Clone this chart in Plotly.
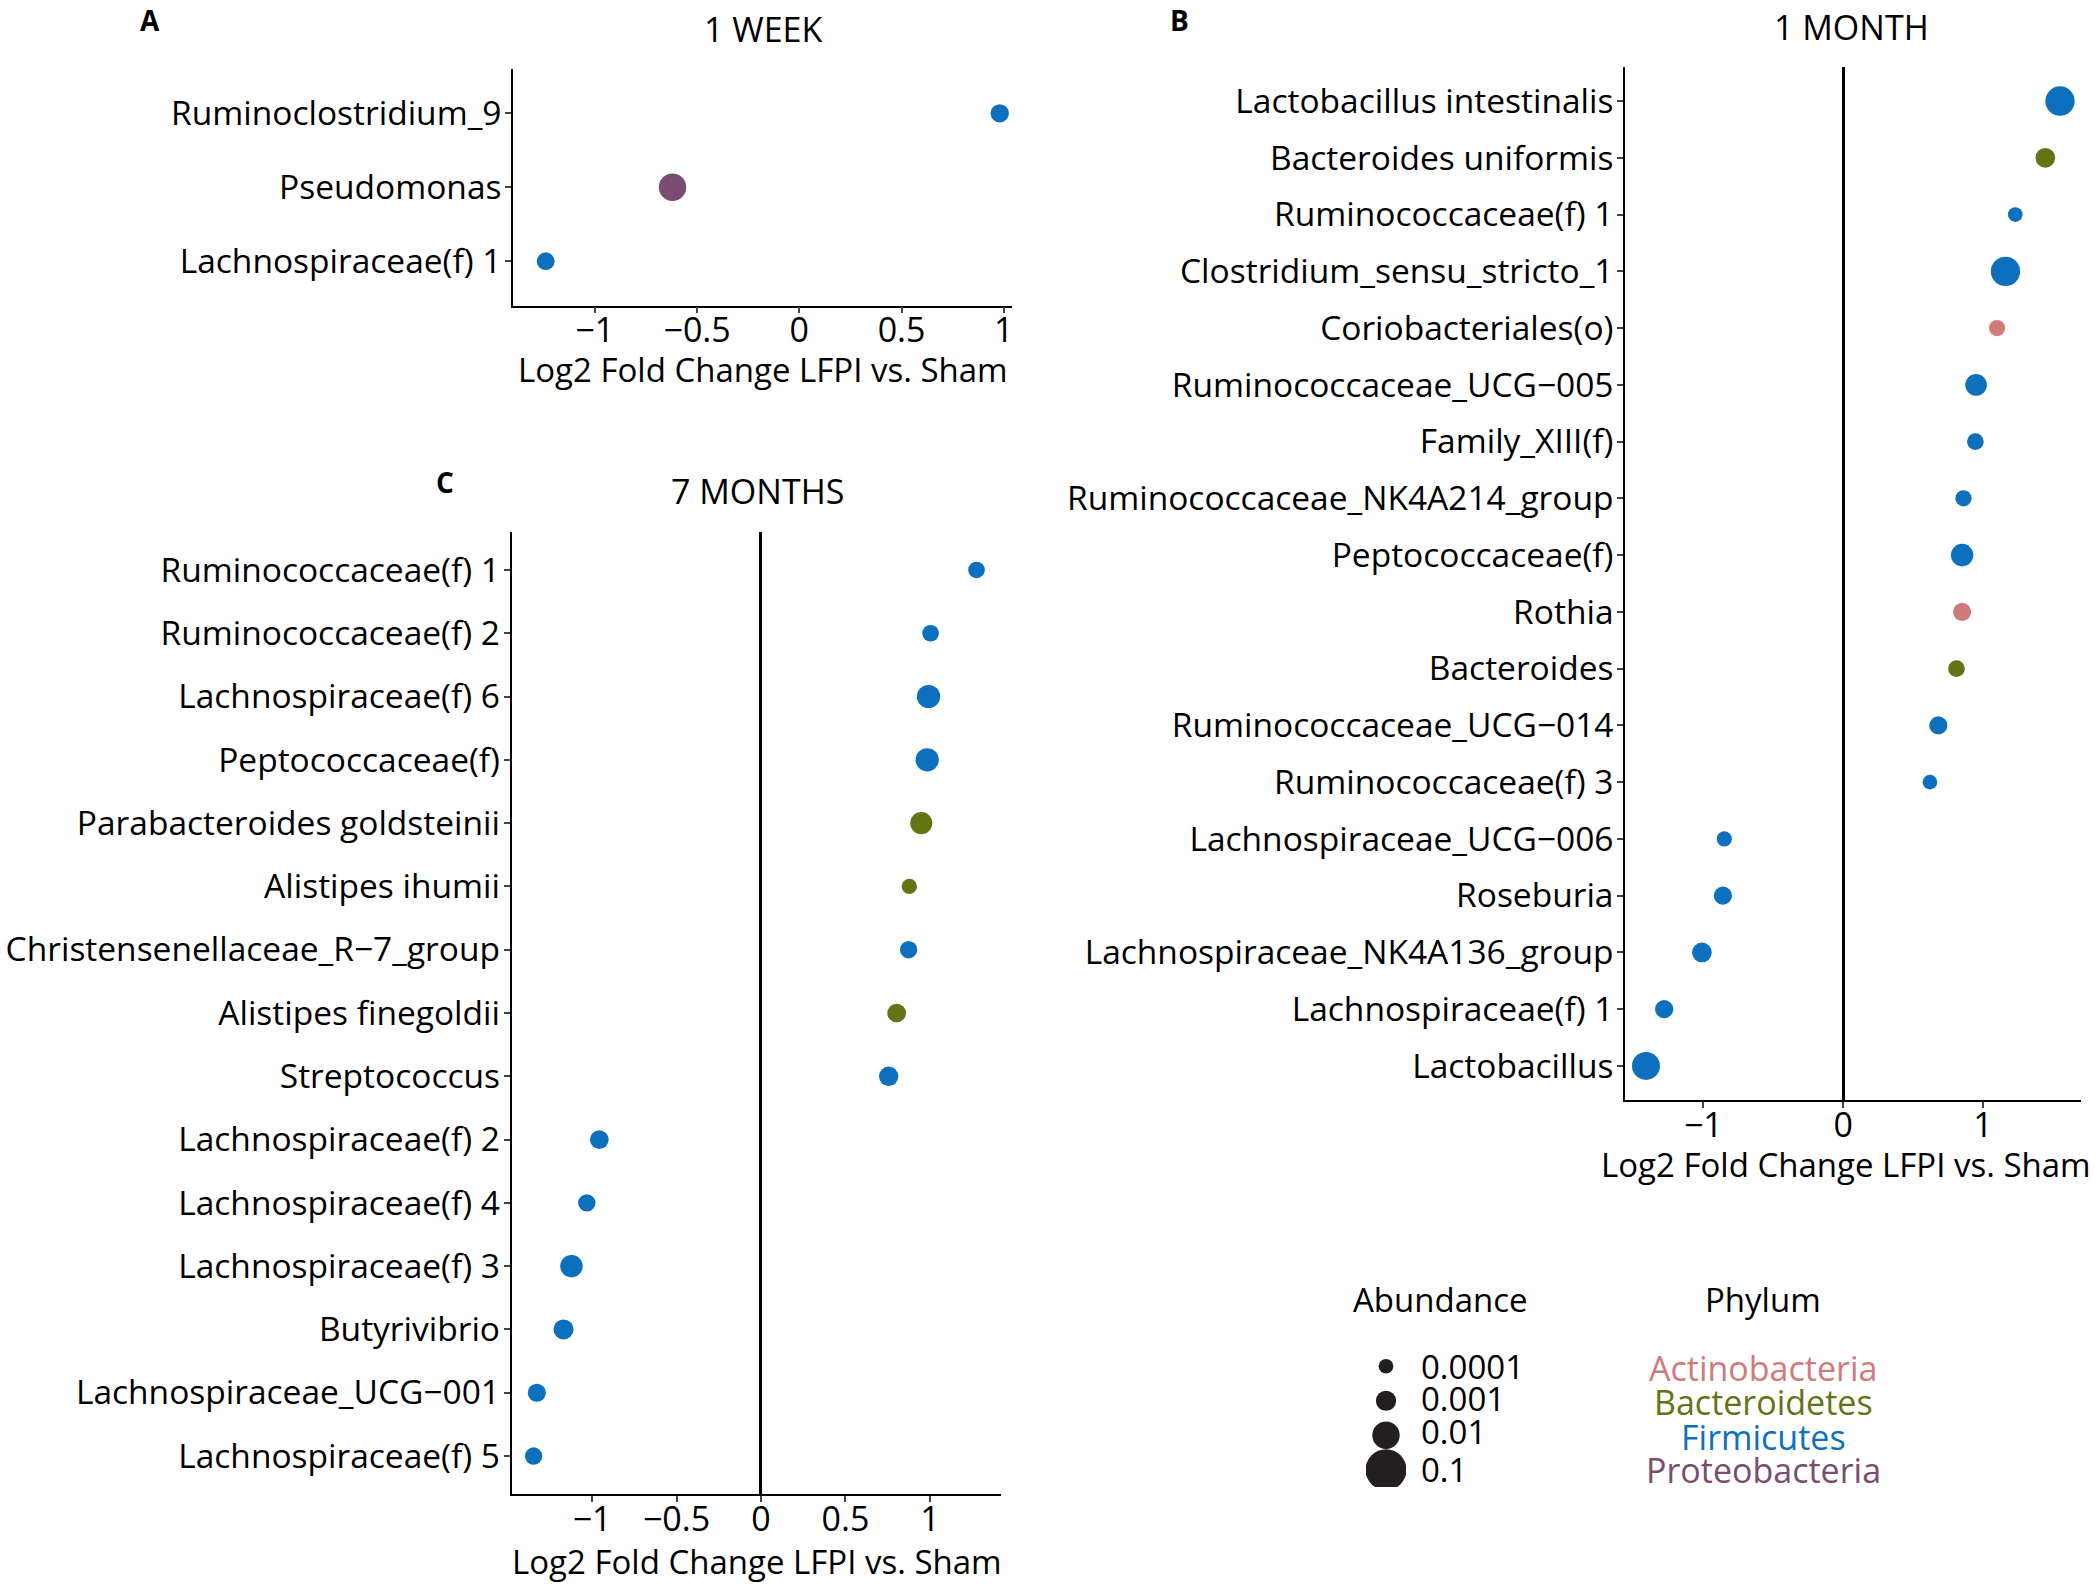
import numpy as np
import plotly.graph_objects as go

W, H = 2095, 1584
FONT = "Open Sans"

# ---------------- data ----------------
phyla = ["Actinobacteria", "Bacteroidetes", "Firmicutes", "Proteobacteria"]
phylum_colors = ["#D17A7C", "#627414", "#0C70BF", "#7A4C6F"]

abundance_breaks = [0.0001, 0.001, 0.01, 0.1]
abundance_break_labels = ["0.0001", "0.001", "0.01", "0.1"]

# 1 WEEK
taxa_1w = ["Ruminoclostridium_9", "Pseudomonas", "Lachnospiraceae(f) 1"]
lfc_1w = [0.98, -0.62, -1.24]
abund_1w = [0.00045, 0.01, 0.00035]
phylum_1w = ["Firmicutes", "Proteobacteria", "Firmicutes"]

# 1 MONTH
taxa_1m = ["Lactobacillus intestinalis", "Bacteroides uniformis", "Ruminococcaceae(f) 1",
           "Clostridium_sensu_stricto_1", "Coriobacteriales(o)", "Ruminococcaceae_UCG\u2212005",
           "Family_XIII(f)", "Ruminococcaceae_NK4A214_group", "Peptococcaceae(f)", "Rothia",
           "Bacteroides", "Ruminococcaceae_UCG\u2212014", "Ruminococcaceae(f) 3",
           "Lachnospiraceae_UCG\u2212006", "Roseburia", "Lachnospiraceae_NK4A136_group",
           "Lachnospiraceae(f) 1", "Lactobacillus"]
lfc_1m = [1.55, 1.445, 1.23, 1.16, 1.10, 0.95, 0.945, 0.86, 0.85, 0.85, 0.81, 0.68, 0.62,
          -0.85, -0.86, -1.01, -1.28, -1.41]
abund_1m = [0.014, 0.0008, 0.0001, 0.014, 0.00019, 0.0016, 0.00023, 0.00019, 0.0021, 0.00043,
            0.00023, 0.00043, 0.0001, 0.00012, 0.00043, 0.0008, 0.00043, 0.011]
phylum_1m = ["Firmicutes", "Bacteroidetes", "Firmicutes", "Firmicutes", "Actinobacteria",
             "Firmicutes", "Firmicutes", "Firmicutes", "Firmicutes", "Actinobacteria",
             "Bacteroidetes", "Firmicutes", "Firmicutes", "Firmicutes", "Firmicutes",
             "Firmicutes", "Firmicutes", "Firmicutes"]

# 7 MONTHS
taxa_7m = ["Ruminococcaceae(f) 1", "Ruminococcaceae(f) 2", "Lachnospiraceae(f) 6",
           "Peptococcaceae(f)", "Parabacteroides goldsteinii", "Alistipes ihumii",
           "Christensenellaceae_R\u22127_group", "Alistipes finegoldii", "Streptococcus",
           "Lachnospiraceae(f) 2", "Lachnospiraceae(f) 4", "Lachnospiraceae(f) 3",
           "Butyrivibrio", "Lachnospiraceae_UCG\u2212001", "Lachnospiraceae(f) 5"]
lfc_7m = [1.276, 1.004, 0.992, 0.984, 0.949, 0.878, 0.874, 0.803, 0.756,
          -0.957, -1.031, -1.122, -1.169, -1.327, -1.346]
abund_7m = [0.00023, 0.00023, 0.0027, 0.0027, 0.0018, 0.00013, 0.00031, 0.00054, 0.0007,
            0.00054, 0.00031, 0.0021, 0.00095, 0.00042, 0.00031]
phylum_7m = ["Firmicutes", "Firmicutes", "Firmicutes", "Firmicutes", "Bacteroidetes",
             "Bacteroidetes", "Firmicutes", "Bacteroidetes", "Firmicutes", "Firmicutes",
             "Firmicutes", "Firmicutes", "Firmicutes", "Firmicutes", "Firmicutes"]

# ---------------- scales ----------------
legend_diam = [14.7, 20.2, 27.4, 41.0]
def size_scale(a):
    return list(np.interp(np.log10(a), np.log10(abundance_breaks), legend_diam))

col_map = dict(zip(phyla, phylum_colors))

def px(v):   # pixel (x) -> paper
    return v / W
def py(v):   # pixel (y) -> paper
    return 1 - v / H

fig = go.Figure()

panels = [
    # taxa, lfc, abund, phylum, axis suffix, x px domain, y px domain, x range, dtick, zero line
    (taxa_1w, lfc_1w, abund_1w, phylum_1w, "", (513, 1012), (69, 305.5), [-1.40, 1.04], 0.5, False),
    (taxa_1m, lfc_1m, abund_1m, phylum_1m, "2", (1625, 2081), (67, 1100), [-1.56, 1.70], 1.0, True),
    (taxa_7m, lfc_7m, abund_7m, phylum_7m, "3", (511.5, 1000.5), (532, 1494), [-1.477, 1.418], 0.5, True),
]

layout_axes = {}
for taxa, lfc, ab, ph, s, xd, yd, xr, dt, zl in panels:
    fig.add_trace(go.Scatter(
        x=lfc, y=taxa, mode="markers",
        xaxis="x" + s, yaxis="y" + s,
        marker=dict(size=size_scale(ab), color=[col_map[p] for p in ph],
                    line=dict(width=0), opacity=1),
        showlegend=False, hoverinfo="x+y"))
    n = len(taxa)
    layout_axes["xaxis" + s] = dict(
        domain=[px(xd[0]), px(xd[1])], anchor="y" + s, range=xr, automargin=False,
        tickmode="linear", tick0=0, dtick=dt,
        showline=True, linecolor="black", linewidth=1.6, mirror=False,
        ticks="outside", ticklen=6, tickwidth=1.6, tickcolor="#444444",
        ticklabelstandoff=-12,
        tickfont=dict(family=FONT, size=34, color="black"),
        showgrid=False, zeroline=zl, zerolinecolor="black", zerolinewidth=3)
    layout_axes["yaxis" + s] = dict(
        domain=[py(yd[1]), py(yd[0])], anchor="x" + s, type="category", automargin=False,
        categoryorder="array", categoryarray=taxa, range=[n - 1 + 0.6, -0.6],
        showline=True, linecolor="black", linewidth=1.6,
        ticks="outside", ticklen=6, tickwidth=1.6, tickcolor="#444444",
        ticklabelstandoff=-3,
        tickfont=dict(family=FONT, size=33.5, color="black"),
        showgrid=False, zeroline=False)

# Abundance legend (keys drawn on their own small axis)
fig.add_trace(go.Scatter(
    x=["key"] * len(abundance_breaks), y=abundance_break_labels, mode="markers",
    xaxis="x4", yaxis="y4",
    marker=dict(size=size_scale(abundance_breaks), color="#231F20",
                line=dict(width=0), opacity=1),
    showlegend=False, hoverinfo="skip"))
layout_axes["xaxis4"] = dict(domain=[px(1366), px(1406)], anchor="y4", type="category",
                             automargin=False, showline=False, showticklabels=False,
                             showgrid=False, zeroline=False, ticks="")
layout_axes["yaxis4"] = dict(domain=[py(1487), py(1349)], anchor="x4", type="category",
                             automargin=False, categoryorder="array",
                             categoryarray=abundance_break_labels,
                             range=[3.5, -0.5], showticklabels=False,
                             showline=False, showgrid=False, zeroline=False, ticks="")

annotations = []
def ann(text, x, y, size, color="black", bold=False, xanchor="center"):
    annotations.append(dict(text=("<b>%s</b>" % text) if bold else text,
                            x=px(x), y=py(y), xref="paper", yref="paper",
                            xanchor=xanchor, yanchor="middle", showarrow=False,
                            font=dict(family=FONT, size=size, color=color)))

# panel titles
ann("1 WEEK", 763, 29, 34)
ann("1 MONTH", 1851, 27, 34)
ann("7 MONTHS", 757, 491, 34)
# panel letters
ann("A", 150, 20, 28, bold=True)
ann("B", 1179, 20, 28, bold=True)
ann("C", 445, 482, 28, bold=True)
# x titles
xtitle = "Log2 Fold Change LFPI vs. Sham"
ann(xtitle, 763, 370, 33)
ann(xtitle, 1846, 1164, 33)
ann(xtitle, 757, 1561, 33)
# legend titles
ann("Abundance", 1440, 1299, 33)
ann("Phylum", 1763, 1299, 33)
legend_label_y = [1366, 1398, 1431, 1469]
for lab, yy in zip(abundance_break_labels, legend_label_y):
    ann(lab, 1419, yy, 33, xanchor="left")
phylum_y = [1368, 1402, 1437, 1470]
for name, colr, yy in zip(phyla, phylum_colors, phylum_y):
    ann(name, 1763, yy, 34, color=colr)

fig.update_layout(
    width=W, height=H, margin=dict(l=0, r=0, t=0, b=0, autoexpand=False),
    paper_bgcolor="white", plot_bgcolor="white",
    font=dict(family=FONT, color="black"),
    showlegend=False, annotations=annotations, **layout_axes)

fig.write_html("out.html", config={"displayModeBar": False},
               post_script="document.body.style.margin='0px';document.body.style.padding='0px';")
